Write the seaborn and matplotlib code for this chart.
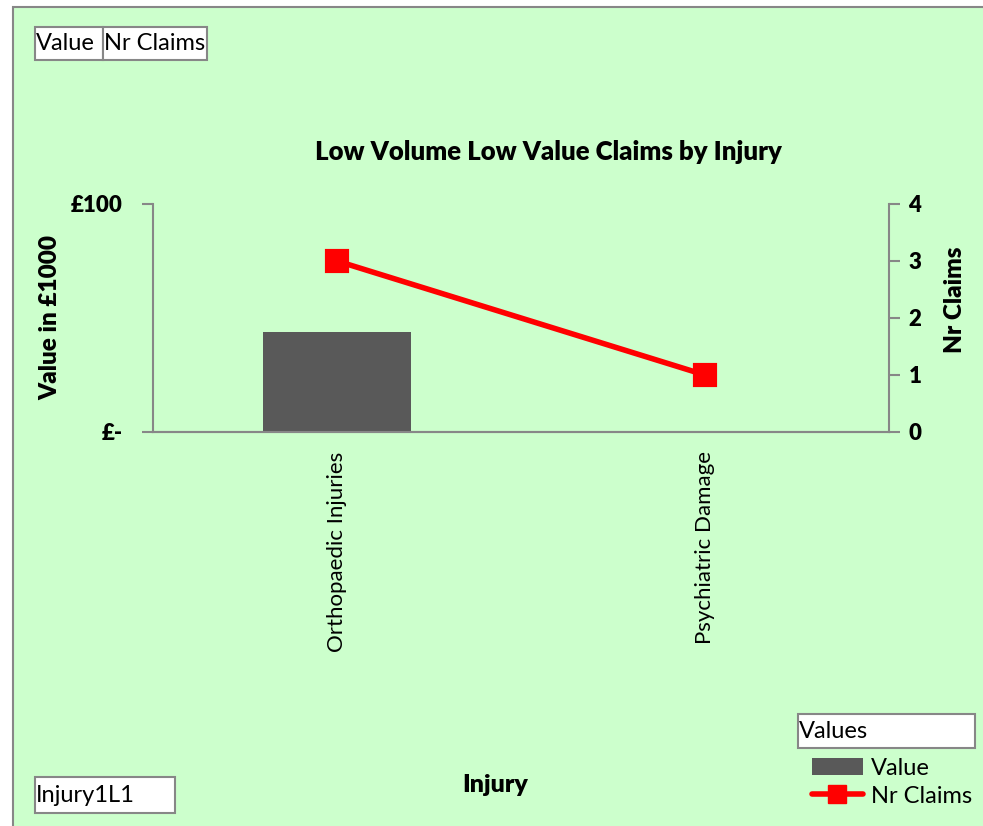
import numpy as np
import pandas as pd
import matplotlib.pyplot as plt
import seaborn as sns
from matplotlib.patches import Rectangle
from matplotlib.lines import Line2D
from matplotlib.patches import Patch

# ── Data ──────────────────────────────────────────────────────────────────────
injuries = ["Orthopaedic Injuries", "Psychiatric Damage"]
values = [44, 0]          # Value in £1000
nr_claims = [3, 1]        # Nr Claims

df = pd.DataFrame({"Injury": injuries, "Value": values, "Nr Claims": nr_claims})

# ── Style ─────────────────────────────────────────────────────────────────────
sns.set_theme(style="white")
plt.rcParams["font.family"] = ["Lato", "DejaVu Sans"]
plt.rcParams["text.color"] = "black"
plt.rcParams["xtick.color"] = "black"
plt.rcParams["ytick.color"] = "black"
green = "#CCFFCC"
grey = "#878787"

fig = plt.figure(figsize=(9.83, 8.26), dpi=100, facecolor="white")
fig.patches.append(Rectangle((13 / 983, -0.01), 1.0, 1 - 7 / 826 + 0.01,
                             transform=fig.transFigure, facecolor=green,
                             edgecolor=grey, linewidth=1.5, zorder=-5))

ax = fig.add_axes([153 / 983, 1 - 432 / 826, (889 - 153) / 983, (432 - 204) / 826])
ax.set_facecolor("none")

sns.barplot(data=df, x="Injury", y="Value", color="#595959", width=0.4,
            saturation=1, ax=ax, zorder=2, linewidth=0, edgecolor="none")

ax2 = ax.twinx()
sns.pointplot(data=df, x="Injury", y="Nr Claims", color="#FF0000", markers="s",
              linestyles="-", ax=ax2, markersize=14, linewidth=4)

ax.set_xlim(-0.5, 1.5)
ax.set_ylim(0, 100)
ax2.set_ylim(0, 4)

# axes / spines
for a in (ax, ax2):
    for s in a.spines.values():
        s.set_visible(False)
    a.spines["bottom"].set_visible(True)
    a.spines["bottom"].set_color(grey)
    a.spines["bottom"].set_linewidth(1.5)
ax.spines["left"].set_visible(True)
ax.spines["left"].set_color(grey)
ax.spines["left"].set_linewidth(1.5)
ax2.spines["right"].set_visible(True)
ax2.spines["right"].set_color(grey)
ax2.spines["right"].set_linewidth(1.5)

ax.set_yticks([0, 100])
ax.set_yticklabels(["£-", "£100"], fontsize=16, fontweight="heavy")
ax2.set_yticks([0, 1, 2, 3, 4])
ax2.set_yticklabels(["0", "1", "2", "3", "4"], fontsize=16, fontweight="heavy")

ax.set_xticks([0, 1])
ax.set_xticklabels(injuries, rotation=90, fontsize=16)
ax.set_xticks([-0.5, 0.5, 1.5], minor=True)
ax.tick_params(axis="x", which="major", length=0, pad=14)
ax.tick_params(axis="x", which="minor", length=7, width=1.5, color=grey, direction="out")
ax.tick_params(axis="y", length=8, width=1.5, color=grey, direction="out", left=True, pad=14)
ax2.tick_params(axis="y", length=8, width=1.5, color=grey, direction="out", right=True, pad=6)

ax.set_xlabel("")
ax.set_ylabel("")
ax2.set_xlabel("")
ax2.set_ylabel("")

# labels and title
fig.text(548 / 983, 1 - 152 / 826, "Low Volume Low Value Claims by Injury",
         ha="center", va="center", fontsize=18.5, fontweight="heavy")
fig.text(50 / 983, 1 - 318 / 826, "Value in £1000", rotation=90,
         ha="center", va="center", fontsize=17.5, fontweight="heavy")
fig.text(955 / 983, 1 - 300 / 826, "Nr Claims", rotation=90,
         ha="center", va="center", fontsize=17.5, fontweight="heavy")
fig.text(495 / 983, 1 - 785 / 826, "Injury", ha="center", va="center",
         fontsize=18, fontweight="heavy")

# pivot field buttons
def field_box(x0, y0, x1, y1, text):
    fig.patches.append(Rectangle((x0 / 983, 1 - y1 / 826), (x1 - x0) / 983, (y1 - y0) / 826,
                                 transform=fig.transFigure, facecolor="white",
                                 edgecolor=grey, linewidth=1.5, zorder=3))
    fig.text((x0 + 1) / 983, 1 - (y0 + y1) / 2 / 826, text, ha="left", va="center",
             fontsize=17, zorder=4)

field_box(35, 27, 103, 60, "Value")
field_box(103, 27, 207, 60, "Nr Claims")
field_box(35, 777, 175, 813, "Injury1L1")
field_box(798, 714, 975, 748, "Values")

# legend
handles = [Patch(facecolor="#595959", edgecolor="none", label="Value"),
           Line2D([0], [0], color="#FF0000", linewidth=4, marker="s", markersize=13,
                  label="Nr Claims")]
fig.legend(handles=handles, loc="upper left", bbox_to_anchor=(795 / 983, 1 - 741 / 826),
           frameon=False, fontsize=17, handlelength=2.2, handletextpad=0.3,
           labelspacing=0.3, borderpad=0.2)

fig.savefig("out.png", dpi=100, facecolor="white")
